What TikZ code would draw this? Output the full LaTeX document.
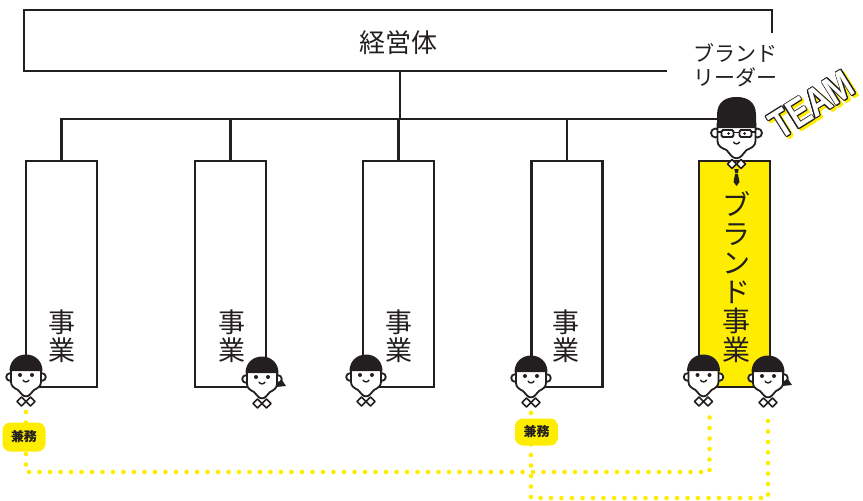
\documentclass[tikz,border=0pt]{standalone}
\usepackage{fontspec}
\usepackage{contour}
\newfontfamily\jp{Noto Sans CJK JP}
\newfontfamily\teamfont[FakeStretch=0.8]{Liberation Sans}
\definecolor{ink}{RGB}{35,31,32}
\definecolor{brandyellow}{RGB}{255,237,0}
\contourlength{0.8pt}
\contournumber{16}

% head of a staff member, centred on the eyes, y pointing down
\newcommand\drawhead{%
  \draw[outline, fill=white] (-16,2) circle (3.8) (16,2) circle (3.8);
  \draw[outline, fill=white] (-15,-6) -- (-15,7)
    .. controls (-15,11) and (-12,13) .. (-8,15) -- (-4,19.5)
    .. controls (-1.5,22) and (1.5,22) .. (4,19.5) -- (8,15)
    .. controls (12,13) and (15,11) .. (15,7) -- (15,-6) -- cycle;
  \draw[outline, fill=white, line width=1.6pt]
    (-9,26.5) -- (-4.5,22) -- (0,26.5) -- (-4.5,31) -- cycle
    (0,26.5) -- (4.5,22) -- (9,26.5) -- (4.5,31) -- cycle;
  \fill[ink] (-16.5,-4) .. controls (-16.5,-14) and (-9,-20.5) .. (0,-20.5)
    .. controls (9,-20.5) and (16.5,-14) .. (16.5,-4) -- cycle;
  \fill[ink] (-6,0) circle (2) (6,0) circle (2);
  \draw[ink, line width=1.4pt, line cap=round] (-3,5) .. controls (-1.5,7.5) and (1.5,7.5) .. (3,5);
}

\begin{document}
\begin{tikzpicture}[x=1pt, y=-1pt,
  frame/.style={draw=ink, line width=2.6pt},
  link/.style={draw=ink, line width=2.6pt},
  unitbox/.style={draw=ink, line width=2.6pt, fill=white, minimum width=71pt,
    minimum height=226pt, inner sep=0pt, outer sep=0pt},
  brandbox/.style={unitbox, fill=brandyellow},
  vlabel/.style={font=\jp\fontsize{27}{28}\selectfont, text=ink, align=center, inner sep=0pt},
  dots/.style={draw=brandyellow, line width=4.6pt, line cap=round, dash pattern=on 0pt off 10.5pt},
  tag/.style={fill=brandyellow, rounded corners=8pt, minimum width=43pt, minimum height=28pt,
    inner sep=0pt, font=\jp\bfseries\fontsize{13}{13}\selectfont, text=ink},
  outline/.style={draw=ink, line width=1.8pt, line join=round},
  person/.pic={\drawhead \coordinate (-c) at (0,37);},
  girl/.pic={\fill[ink] (12,-8) .. controls (17,-3) and (19,2) .. (24,9) -- (14,10) -- cycle;
    \drawhead \coordinate (-c) at (0,37);},
  leader/.pic={
    \draw[outline, fill=white, line width=1.6pt]
      (-9,33) -- (-4.5,28.5) -- (0,33) -- (-4.5,37.5) -- cycle
      (0,33) -- (4.5,28.5) -- (9,33) -- (4.5,37.5) -- cycle;
    \fill[ink] (-2.2,38) -- (2.2,38) -- (1.4,42) -- (-1.4,42) -- cycle;
    \fill[ink] (-1.4,42.8) -- (1.4,42.8) -- (3,51) -- (0,55) -- (-3,51) -- cycle;
    \draw[outline, fill=white] (-21,2) circle (4.5) (21,2) circle (4.5);
    \draw[outline, fill=white] (-19,-8) -- (-19,10)
      .. controls (-19,15) and (-15,17) .. (-10,19) -- (-5,25)
      .. controls (-2,28) and (2,28) .. (5,25) -- (10,19)
      .. controls (15,17) and (19,15) .. (19,10) -- (19,-8) -- cycle;
    \fill[ink] (-19.5,-3) -- (-19.5,-16) .. controls (-19.5,-29) and (-11,-34) .. (0,-34)
      .. controls (11,-34) and (19.5,-29) .. (19.5,-16) -- (19.5,-3) -- cycle;
    \draw[ink, line width=1.8pt, fill=white, rounded corners=1.5pt]
      (-15,-1) rectangle (-3,6) (3,-1) rectangle (15,6);
    \draw[ink, line width=1.6pt] (-3,1.5) -- (3,1.5) (-15,1) -- (-19,1) (15,1) -- (19,1);
    \fill[ink] (-8,2.5) circle (1.5) (8,2.5) circle (1.5);
    \draw[ink, line width=1.4pt, line cap=round] (-3,11) .. controls (-1.5,13.5) and (1.5,13.5) .. (3,11);
    \coordinate (-left) at (-19.5,-12);
  },
]
\useasboundingbox (0,0) rectangle (863,501);

% management body: open frame with the leader caption in its gap
\draw[frame] (667,71) -- (24,71) -- (24,10) -- (772,10) -- (772,33);
\coordinate (top-s) at (400,71);
\coordinate (bus) at (400,119);
\node[font=\jp\fontsize{26}{26}\selectfont, text=ink] (org) at (398,43) {経営体};
\node[font=\jp\fontsize{21}{24}\selectfont, align=center, text=ink] (leadcap) at (735,65) {ブランド\\リーダー};

% business units
\node[unitbox] (b1) at (61.5,274) {};
\node[unitbox] (b2) at (230.5,274) {};
\node[unitbox] (b3) at (398.5,274) {};
\node[unitbox] (b4) at (567,274) {};
\node[brandbox] (b5) at (734.5,274) {};

\node[vlabel] (t1) at (61.5,336) {事\\業};
\node[vlabel] (t2) at (231.5,336) {事\\業};
\node[vlabel] (t3) at (398.5,336) {事\\業};
\node[vlabel] (t4) at (566,336) {事\\業};
\node[vlabel, font=\jp\fontsize{28}{29}\selectfont] (t5) at (736,277) {ブ\\ラ\\ン\\ド\\事\\業};

% brand leader
\pic (L) at (736.5,131) {leader};

% reporting lines
\draw[link] (top-s) -- (bus);
\draw[link] (b1.north) |- (L-left);
\draw[link] (b2.north) -- (b2.north |- bus);
\draw[link] (b3.north) -- (b3.north |- bus);
\draw[link] (b4.north) -- (b4.north |- bus);

% staff
\pic (f1) at (26,375) {person};
\pic (f2) at (262,377) {girl};
\pic (f3) at (366,375) {person};
\pic (f4) at (531,376) {person};
\pic (f5) at (703.5,375) {person};
\pic (f6) at (768,376) {girl};

% concurrent posts (dotted yellow), tags laid over the dots
\coordinate (d5) at (709.5,413);
\coordinate (j1) at (709.5,472);
\coordinate (j2) at (768,498);
\draw[dots] (f1-c) |- (j1) -- (d5);
\draw[dots] (f4-c) |- (j2) -- (f6-c);
\node[tag, minimum height=29pt] (k1) at (24,437) {兼務};
\node[tag, minimum height=27pt] (k2) at (536.5,432) {兼務};

% team badge
\node[rotate=32, inner sep=0pt, font=\teamfont\bfseries\fontsize{40}{40}\selectfont]
  (teamshadow) at (814.5,107) {\color{brandyellow}\contour{brandyellow}{TEAM}};
\node[rotate=32, inner sep=0pt, font=\teamfont\bfseries\fontsize{40}{40}\selectfont]
  (team) at (812,105) {\color{white}\contour{ink}{TEAM}};
\end{tikzpicture}
\end{document}
